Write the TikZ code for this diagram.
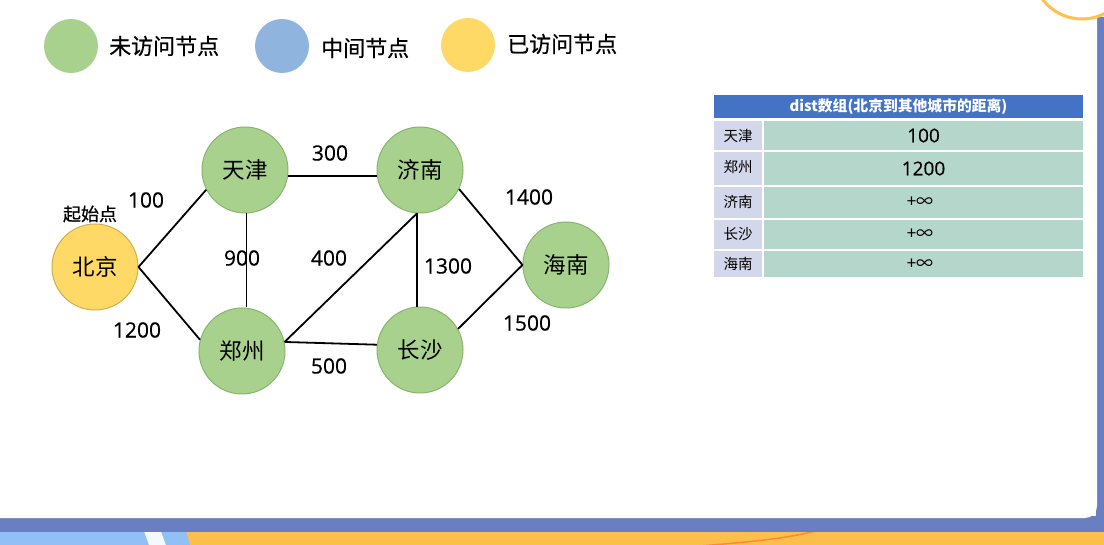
\documentclass[tikz,border=0pt]{standalone}
\usepackage{fontspec}
\setmainfont{Noto Sans CJK SC}
\newfontfamily\numfont[FakeBold=0.6]{Open Sans}
\newfontfamily\legfont[FakeBold=0.6]{Noto Sans CJK SC}
\definecolor{ngreen}{HTML}{A9D18E}
\definecolor{ngreenb}{HTML}{86B56C}
\definecolor{nblue}{HTML}{8FB4DE}
\definecolor{nyellow}{HTML}{FFD966}
\definecolor{nyellowb}{HTML}{CFAE4E}
\definecolor{hdrblue}{HTML}{4472C4}
\definecolor{lcellc}{HTML}{D3D7EC}
\definecolor{rcellc}{HTML}{B5D6CB}
\definecolor{bandblue}{HTML}{6A7EC2}
\definecolor{botorange}{HTML}{FDBF4C}
\definecolor{botlblue}{HTML}{92C0F6}
\definecolor{ringorange}{HTML}{FFC04C}
\begin{document}
\begin{tikzpicture}[x=1pt,y=-1pt,
  city/.style={circle,minimum size=86pt,inner sep=0pt,fill=ngreen,draw=ngreenb,line width=1pt,
    font=\fontsize{22.5}{26}\selectfont},
  start/.style={city,fill=nyellow,draw=nyellowb},
  legdot/.style={circle,minimum size=54pt,inner sep=0pt},
  legtext/.style={anchor=west,inner sep=0pt,font=\legfont\fontsize{22}{26}\selectfont},
  wlabel/.style={inner sep=0pt,font=\numfont\fontsize{21}{25}\selectfont},
  edge/.style={line width=1.8pt,black},
  lcell/.style={rectangle,inner sep=0pt,fill=lcellc,minimum width=48pt,font=\fontsize{14.5}{17}\selectfont},
  rcell/.style={rectangle,inner sep=0pt,fill=rcellc,minimum width=319pt},
  valtext/.style={font=\numfont\fontsize{19}{22}\selectfont},
  inftext/.style={font=\fontsize{17}{19}\selectfont}
]
\useasboundingbox (0,0) rectangle (1104,545);
% background
\fill[white] (0,0) rectangle (1104,545);
\fill[botorange] (0,531) rectangle (1104,545);
\fill[botlblue] (0,531) -- (144,531) -- (149,545) -- (0,545) -- cycle;
\fill[white!90!botlblue] (144,531) -- (161,531) -- (166,545) -- (149,545) -- cycle;
\fill[botlblue] (161,531) -- (186,531) -- (190,545) -- (166,545) -- cycle;
\draw[orange!85!red!80,line width=1.5pt] (700,546) .. controls (750,542) and (790,538) .. (815,531);
\fill[bandblue] (0,516) rectangle (1104,532);
\fill[bandblue] (1096,17) rectangle (1104,532);
\fill[white] (-1,-1) -- (1097,-1) [rounded corners=12pt] -- (1097,518) [sharp corners] -- (-1,518) -- cycle;
\draw[ringorange,line width=3pt] (1082,-30.5) circle (49.5pt);

% legend
\node[legdot,fill=ngreen] (lg1) at (71,46) {};
\node[legtext] (lt1) at (109,46) {未访问节点};
\node[legdot,fill=nblue] (lg2) at (282,46) {};
\node[legtext] (lt2) at (321,48) {中间节点};
\node[legdot,fill=nyellow] (lg3) at (468,45) {};
\node[legtext] (lt3) at (507,44) {已访问节点};

% graph
\node[start] (bj) at (95,267) {北京};
\node[city] (tj) at (245,170) {天津};
\node[city] (jn) at (420,170) {济南};
\node[city] (zz) at (242,351) {郑州};
\node[city] (cs) at (420,350) {长沙};
\node[city] (hn) at (566,265) {海南};

\draw[edge] (bj.0) -- (tj.207);
\draw[edge] (bj.0) -- (zz.165);
\draw[edge] (tj.-8) -- (jn.188);
\draw[edge] (tj.-88) -- (tj.-88 |- zz.north);
\draw[edge] (zz.12) -- (jn.266);
\draw[edge] (zz.12) -- (cs.173);
\draw[edge] (jn.266) -- (cs.94);
\draw[edge] (jn.-26) -- (hn.180);
\draw[edge] (cs.29) -- (hn.180);

\node[inner sep=0pt,font=\legfont\fontsize{18}{21}\selectfont] (qsd) at (90,214) {起始点};
\node[wlabel] (w100) at (146,200) {100};
\node[wlabel] (w1200) at (137,330) {1200};
\node[wlabel] (w300) at (330,153) {300};
\node[wlabel] (w900) at (242,258) {900};
\node[wlabel] (w400) at (329,258) {400};
\node[wlabel] (w1300) at (448,266) {1300};
\node[wlabel] (w1400) at (529,197) {1400};
\node[wlabel] (w1500) at (527,323) {1500};
\node[wlabel] (w500) at (329,366) {500};

% table
\node[rectangle,fill=hdrblue,minimum width=369pt,minimum height=23pt,inner sep=0pt,text=white,
  font=\bfseries\fontsize{14.8}{17}\selectfont] (hdr) at (898.5,106.5) {dist数组(北京到其他城市的距离)};
\node[lcell,minimum height=29pt] (l1) at (738,135.5) {天津};
\node[rcell,minimum height=29pt,valtext] (r1) at (923.5,135.5) {100};
\node[lcell,minimum height=33pt] (l2) at (738,168.5) {\raisebox{4pt}{郑州}};
\node[rcell,minimum height=33pt,valtext] (r2) at (923.5,168.5) {\raisebox{-1pt}{1200}};
\node[lcell,minimum height=31pt] (l3) at (738,202.5) {\raisebox{2pt}{济南}};
\node[rcell,minimum height=31pt,inftext] (r3) at (923.5,202.5) {\hspace*{-7pt}+∞};
\node[lcell,minimum height=29pt] (l4) at (738,234.5) {长沙};
\node[rcell,minimum height=29pt,inftext] (r4) at (923.5,234.5) {\hspace*{-7pt}+∞};
\node[lcell,minimum height=26pt] (l5) at (738,264) {海南};
\node[rcell,minimum height=26pt,inftext] (r5) at (923.5,264) {\hspace*{-7pt}+∞};
\end{tikzpicture}
\end{document}
